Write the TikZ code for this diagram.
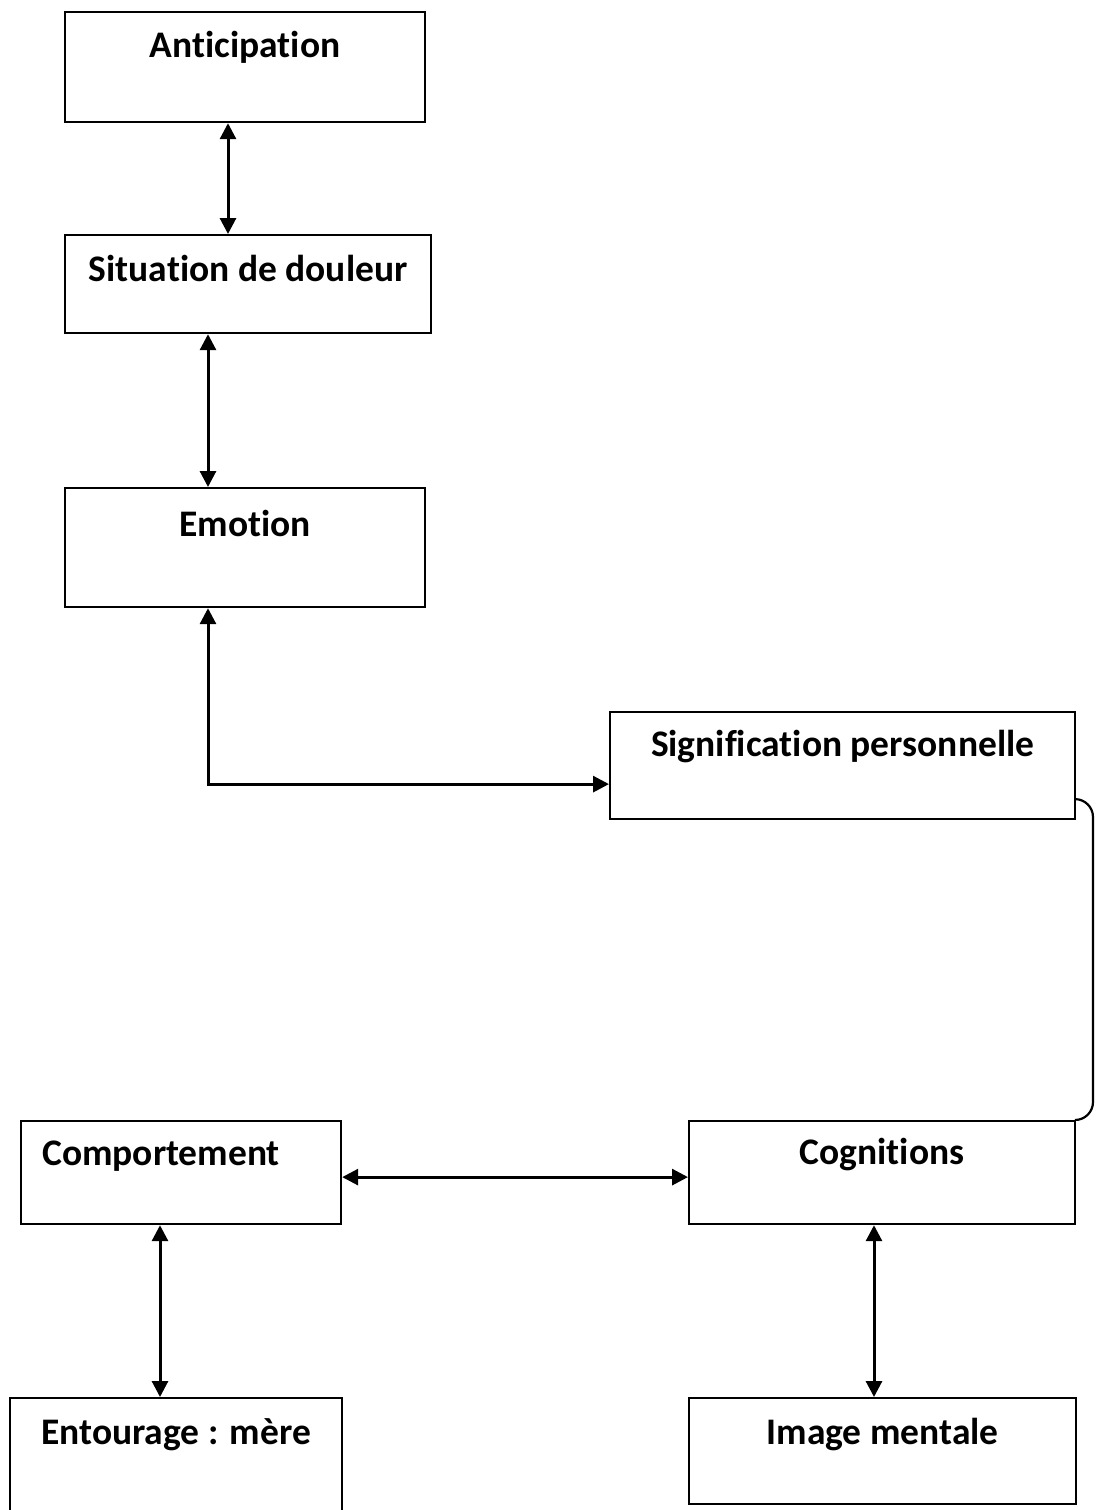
\documentclass[tikz,border=0pt]{standalone}
\usepackage{fontspec}
\setmainfont[Ligatures=NoCommon]{Carlito}
\usetikzlibrary{arrows.meta}
\begin{document}
\begin{tikzpicture}[x=1pt,y=-1pt,
  box/.style={draw,line width=2.2pt,rectangle,anchor=north west,inner sep=0pt},
  lbl/.style={font=\fontsize{37.5}{42}\selectfont\bfseries},
  biarr/.style={line width=3pt,{Triangle[length=16pt,width=16pt]}-{Triangle[length=16pt,width=16pt]}},
  bracket/.style={line width=2.2pt,rounded corners=18pt}]
\clip (0,0) rectangle (1096,1510);
\fill[white] (0,0) rectangle (1096,1510);
% boxes
\node[box,minimum width=360pt,minimum height=110pt] (ant) at (64,11) {};
\node[box,minimum width=366pt,minimum height=98pt] (sit) at (64,234) {};
\node[box,minimum width=360pt,minimum height=119pt] (emo) at (64,487) {};
\node[box,minimum width=465pt,minimum height=107pt] (sig) at (609,711) {};
\node[box,minimum width=320pt,minimum height=103pt] (comp) at (20,1120) {};
\node[box,minimum width=386pt,minimum height=103pt] (cog) at (688,1120) {};
\node[box,minimum width=332pt,minimum height=130pt] (ent) at (9,1397) {};
\node[box,minimum width=387pt,minimum height=106pt] (img) at (688,1397) {};
% labels
\node[lbl] (tant) at ([yshift=-36]ant.north) {Anticipation};
\node[lbl] (tsit) at ([yshift=-34]sit.north) {Situation de douleur};
\node[lbl] (temo) at ([yshift=-36]emo.north) {Emotion};
\node[lbl] (tsig) at ([yshift=-36]sig.north) {Signification personnelle};
\node[lbl,anchor=west,inner sep=0pt] (tcomp) at ([xshift=22,yshift=-36]comp.north west) {Comportement};
\node[lbl] (tcog) at ([yshift=-35]cog.north) {Cognitions};
\node[lbl] (tent) at ([yshift=-38]ent.north) {Entourage : mère};
\node[lbl] (timg) at ([yshift=-38]img.north) {Image mentale};
% helper coordinates
\coordinate (c1) at (228,0);
\coordinate (c2) at (208,0);
\coordinate (c4) at (160,0);
\coordinate (c5) at (874,0);
\coordinate (c6) at (1093,0);
% connectors
\draw[biarr] (ant.south -| c1) -- (sit.north -| c1);
\draw[biarr] (sit.south -| c2) -- (emo.north -| c2);
\draw[biarr] (emo.south -| c2) |- ([yshift=-18.5]sig.west);
\draw[biarr] ([yshift=-4.5]comp.east) -- ([yshift=-4.5]cog.west);
\draw[biarr] (comp.south -| c4) -- (ent.north -| c4);
\draw[biarr] (cog.south -| c5) -- (img.north -| c5);
\draw[bracket] ([yshift=-33.5]sig.east) -| (cog.north east -| c6) -- (cog.north east);
\end{tikzpicture}
\end{document}
